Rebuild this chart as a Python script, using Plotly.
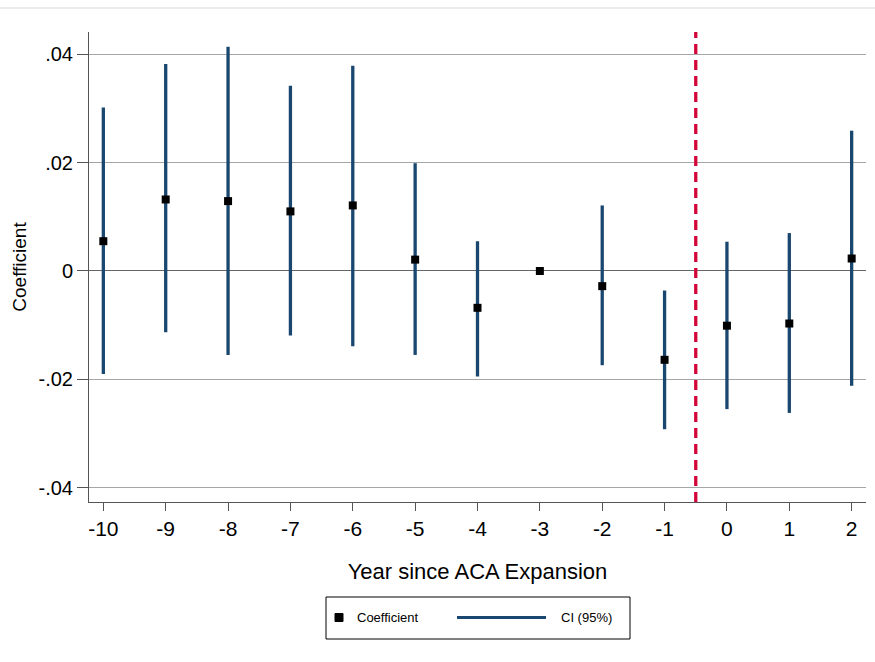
import plotly.graph_objects as go

# ---- data ----
years = [-10, -9, -8, -7, -6, -5, -4, -3, -2, -1, 0, 1, 2]
coef = [0.0055, 0.0132, 0.0129, 0.0110, 0.0121, 0.0021, -0.0068, 0.0, -0.0028, -0.0164, -0.0101, -0.0097, 0.0023]
ci_hi = [0.0302, 0.0382, 0.0414, 0.0342, 0.0379, 0.0199, 0.0055, None, 0.0121, -0.0036, 0.0054, 0.0070, 0.0259]
ci_lo = [-0.0190, -0.0113, -0.0155, -0.0119, -0.0139, -0.0155, -0.0195, None, -0.0174, -0.0292, -0.0255, -0.0262, -0.0212]
y_ticks = [-0.04, -0.02, 0, 0.02, 0.04]
y_tick_labels = ["-.04", "-.02", "0", ".02", ".04"]
x_ticks = years
x_tick_labels = [str(v) for v in years]
event_line = -0.5

NAVY = "#1a476f"
RED = "#d2063a"
FONT = "Liberation Sans, Arial, sans-serif"

W, H = 875, 662
ML, MR, MT, MB = 89, 9, 32, 160
PW, PH = W - ML - MR, H - MT - MB


def px_x(p):
    return (p - ML) / PW


def px_y(p):
    return (H - MB - p) / PH


# CI segments built from the data arrays
seg_x, seg_y = [], []
for x, lo, hi in zip(years, ci_lo, ci_hi):
    if lo is None or hi is None:
        continue
    seg_x += [x, x, None]
    seg_y += [lo, hi, None]

fig = go.Figure()
fig.add_trace(go.Scatter(
    x=seg_x, y=seg_y, mode="lines", name="CI (95%)",
    line=dict(color=NAVY, width=3.3), showlegend=False, hoverinfo="skip",
))
fig.add_trace(go.Scatter(
    x=years, y=coef, mode="markers", name="Coefficient",
    marker=dict(symbol="square", size=8, color="black"), showlegend=False,
))

# event line
fig.add_shape(type="line", xref="x", yref="paper", x0=event_line, x1=event_line,
              y0=0, y1=1, line=dict(color=RED, width=3.3, dash="10px,6px"))

# faint top frame line
fig.add_shape(type="line", xref="paper", yref="paper", x0=px_x(0), x1=px_x(W),
              y0=px_y(8), y1=px_y(8), line=dict(color="#e8ecef", width=2))

# manual legend
fig.add_shape(type="rect", xref="paper", yref="paper",
              x0=px_x(326), x1=px_x(630), y0=px_y(639), y1=px_y(597),
              line=dict(color="black", width=1), fillcolor="white")
fig.add_shape(type="rect", xref="paper", yref="paper",
              x0=px_x(335), x1=px_x(343), y0=px_y(621.5), y1=px_y(613.5),
              line=dict(color="black", width=1), fillcolor="black")
fig.add_shape(type="line", xref="paper", yref="paper",
              x0=px_x(457), x1=px_x(546), y0=px_y(617.5), y1=px_y(617.5),
              line=dict(color=NAVY, width=3))
fig.add_annotation(text="Coefficient", xref="paper", yref="paper", x=px_x(355),
                   y=px_y(617.5), xanchor="left", yanchor="middle", showarrow=False,
                   font=dict(family=FONT, size=13, color="black"))
fig.add_annotation(text="CI (95%)", xref="paper", yref="paper", x=px_x(559),
                   y=px_y(617.5), xanchor="left", yanchor="middle", showarrow=False,
                   font=dict(family=FONT, size=13, color="black"))

fig.update_layout(
    width=W, height=H,
    margin=dict(l=ML, r=MR, t=MT, b=MB),
    paper_bgcolor="white", plot_bgcolor="white",
    font=dict(family=FONT, color="black"),
    showlegend=False,
    xaxis=dict(
        range=[-10.23, 2.23], tickmode="array", tickvals=x_ticks, ticktext=x_tick_labels,
        showgrid=False, zeroline=False, showline=True, linecolor="#555555", linewidth=1,
        ticks="outside", ticklen=8, tickcolor="#555555", tickwidth=1,
        tickfont=dict(family=FONT, size=21, color="black"),
        title=dict(text="Year since ACA Expansion", font=dict(family=FONT, size=22, color="black"),
                   standoff=24),
    ),
    yaxis=dict(
        range=[-0.04265, 0.04412], tickmode="array", tickvals=y_ticks, ticktext=y_tick_labels,
        showgrid=True, gridcolor="#a6a6a6", gridwidth=1,
        zeroline=True, zerolinecolor="#666666", zerolinewidth=1,
        showline=True, linecolor="#555555", linewidth=1,
        ticks="outside", ticklen=11, tickcolor="#555555", tickwidth=1,
        tickfont=dict(family=FONT, size=20, color="black"),
        title=dict(text="Coefficient", font=dict(family=FONT, size=19, color="black"),
                   standoff=6),
    ),
)

fig.write_html("out.html")
